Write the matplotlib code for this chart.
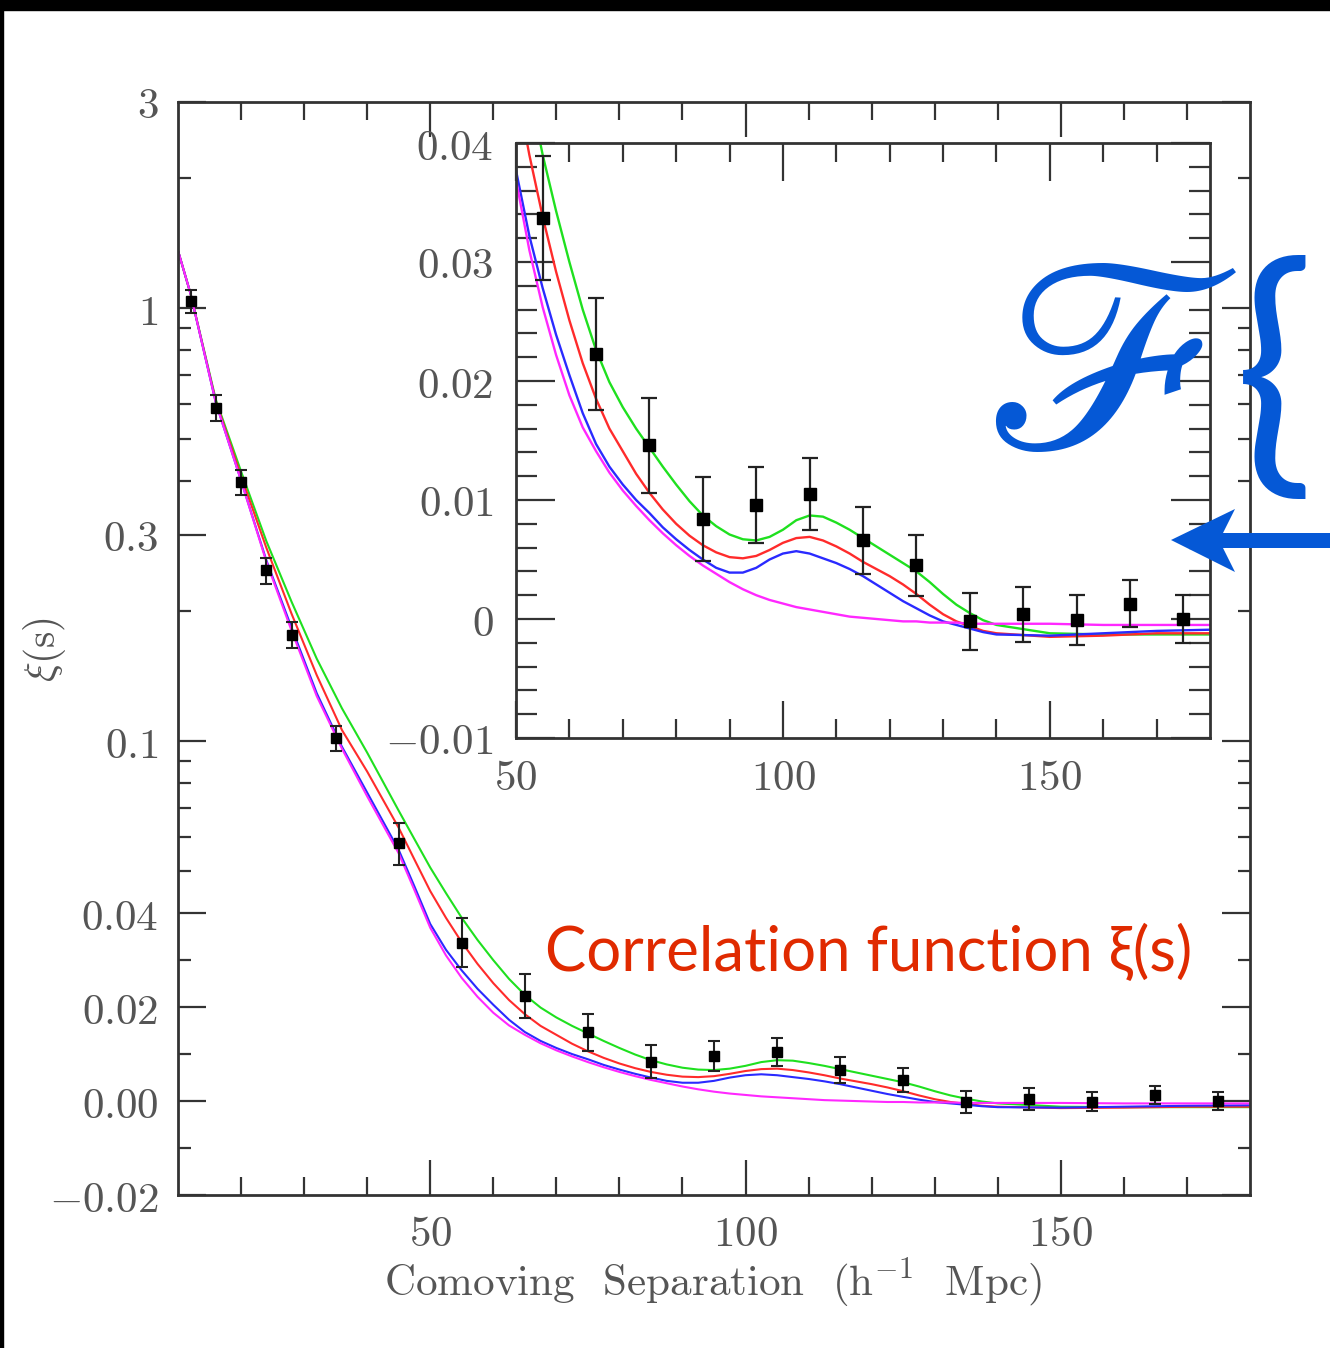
import numpy as np
import matplotlib
matplotlib.use('Agg')
import matplotlib.pyplot as plt
from matplotlib.patches import Rectangle, Polygon
from matplotlib.ticker import FixedLocator, FixedFormatter

plt.rcParams['mathtext.fontset'] = 'cm'

# data points (SDSS LRG correlation function)
pt_s = [12, 16, 20, 24, 28, 35, 45, 55, 65, 75, 85, 95, 105, 115, 125,
        135, 145, 155, 165, 175]
pt_xi = [1.04, 0.59, 0.397, 0.248, 0.176, 0.1015, 0.0581, 0.0337, 0.0223,
         0.0146, 0.0084, 0.0096, 0.0105, 0.0066, 0.0045, -0.0002, 0.0004,
         -0.0001, 0.0013, 0.0000]
pt_err = [0.065, 0.04, 0.027, 0.017, 0.012, 0.0068, 0.0064, 0.0052, 0.0047,
          0.0040, 0.0035, 0.0032, 0.0030, 0.0028, 0.0026, 0.0024, 0.0023,
          0.0021, 0.0020, 0.0020]

# model curves
model_s = [10, 12, 16, 20, 24, 28, 32, 36, 40, 45, 47.5,
           50, 52.5, 55, 57.5, 60, 62.5, 65, 67.5, 70, 72.5, 75, 77.5, 80,
           82.5, 85, 87.5, 90, 92.5, 95, 97.5, 100, 102.5, 105, 107.5, 110,
           112.5, 115, 117.5, 120, 122.5, 125, 127.5, 130, 132.5, 135, 137.5,
           140, 150, 160, 170, 180]
xi_green = [1.36, 1.08, 0.615, 0.42, 0.29, 0.21, 0.155, 0.119, 0.094, 0.069,
            0.0593,
            0.051, 0.0445, 0.0390, 0.0343, 0.0300, 0.0260, 0.0226, 0.0199,
            0.0178, 0.0160, 0.0144, 0.0128, 0.0113, 0.0099, 0.0087, 0.0078,
            0.0071, 0.0067, 0.0066, 0.0069, 0.0075, 0.0083, 0.0087, 0.0086,
            0.0081, 0.0075, 0.0068, 0.0061, 0.0054, 0.0047, 0.0040, 0.0031,
            0.0021, 0.0012, 0.0005, -0.0001, -0.0005, -0.0012, -0.0013,
            -0.0013, -0.0013]
xi_red = [1.36, 1.08, 0.61, 0.41, 0.28, 0.197, 0.142, 0.106, 0.085, 0.063,
          0.0532,
          0.045, 0.0390, 0.0338, 0.0292, 0.0251, 0.0215, 0.0185, 0.0160,
          0.0141, 0.0122, 0.0106, 0.0092, 0.0080, 0.0070, 0.0062, 0.0056,
          0.0052, 0.0051, 0.0053, 0.0058, 0.0064, 0.0068, 0.0069, 0.0066,
          0.0061, 0.0055, 0.0048, 0.0042, 0.0036, 0.0029, 0.0021, 0.0012,
          0.0004, -0.0002, -0.0006, -0.0010, -0.0012, -0.0015, -0.0014,
          -0.0012, -0.0012]
xi_blue = [1.36, 1.08, 0.605, 0.40, 0.262, 0.183, 0.129, 0.097, 0.076, 0.056,
           0.0461,
           0.0377, 0.0322, 0.0278, 0.0239, 0.0205, 0.0173, 0.0147, 0.0128,
           0.0113, 0.0100, 0.0089, 0.0077, 0.0067, 0.0058, 0.0050, 0.0043,
           0.0039, 0.0039, 0.0043, 0.0050, 0.0055, 0.0057, 0.0055, 0.0051,
           0.0047, 0.0042, 0.0036, 0.0029, 0.0022, 0.0015, 0.0009, 0.0003,
           -0.0002, -0.0005, -0.0008, -0.0011, -0.0013, -0.0014, -0.0012,
           -0.0010, -0.0009]
xi_magenta = [1.36, 1.08, 0.605, 0.40, 0.26, 0.18, 0.127, 0.096, 0.0745,
              0.055, 0.0452,
              0.0369, 0.0310, 0.0262, 0.0222, 0.0188, 0.0161, 0.0141, 0.0123,
              0.0108, 0.0095, 0.0083, 0.0072, 0.0062, 0.0053, 0.0045, 0.0038,
              0.0031, 0.0025, 0.0020, 0.0016, 0.0013, 0.0010, 0.0008, 0.0006,
              0.0004, 0.0002, 0.0001, 0.0000, -0.0001, -0.0002, -0.0002,
              -0.0003, -0.0003, -0.0003, -0.0004, -0.0004, -0.0004, -0.0004,
              -0.0005, -0.0005, -0.0005]

curves = [(xi_green, '#1fe01f'), (xi_red, '#ff2b2b'),
          (xi_blue, '#2a2aff'), (xi_magenta, '#ff28ff')]

main_yticks = [-0.02, 0.0, 0.02, 0.04, 0.1, 0.3, 1, 3]
main_ylabels = ['$-0.02$', '$0.00$', '$0.02$', '$0.04$', '$0.1$', '$0.3$',
                '$1$', '$3$']
main_yminor = [-0.01, 0.01, 0.03, 0.05, 0.06, 0.07, 0.08, 0.09, 0.2, 0.4,
               0.5, 0.6, 0.7, 0.8, 0.9, 2]
inset_yticks = [-0.01, 0.0, 0.01, 0.02, 0.03, 0.04]
inset_ylabels = ['$-0.01$', '$0$', '$0.01$', '$0.02$', '$0.03$', '$0.04$']

W, H = 1330, 1348
GRAY = '#555555'
AX = '#333333'
BLUE = '#0558d6'


# linear below 0.04, log above (continuous slope)
def fwd(y):
    y = np.asarray(y, dtype=float)
    return np.where(y <= 0.04, y / 0.04,
                    1 + np.log(np.maximum(y, 0.04) / 0.04))


def inv(f):
    f = np.asarray(f, dtype=float)
    return np.where(f <= 1, 0.04 * f,
                    0.04 * np.exp(np.clip(f, 1, 20) - 1))


def px_box(l, t, r, b):
    return [l / W, 1 - b / H, (r - l) / W, (b - t) / H]


def style_axes(ax, xmaj_len, xmin_len, ymaj_len, ymin_len, pad_x, pad_y):
    for sp in ax.spines.values():
        sp.set_color(AX)
        sp.set_linewidth(2.0)
    ax.tick_params(which='both', direction='in', top=True, right=True,
                   color=AX, width=1.6, labelcolor=GRAY)
    ax.tick_params(axis='x', which='major', length=xmaj_len, pad=pad_x)
    ax.tick_params(axis='x', which='minor', length=xmin_len)
    ax.tick_params(axis='y', which='major', length=ymaj_len, pad=pad_y)
    ax.tick_params(axis='y', which='minor', length=ymin_len)


fig = plt.figure(figsize=(W / 100, H / 100), dpi=100)
fig.patch.set_facecolor('white')

# ---------------- main panel ----------------
ax = fig.add_axes(px_box(178, 102, 1250, 1195))
ax.set_yscale('function', functions=(fwd, inv))
for vals, c in curves:
    ax.plot(model_s, vals, color=c, lw=1.5, zorder=2)
ax.errorbar(pt_s, pt_xi, yerr=pt_err, fmt='s', color='black', ms=7,
            ecolor='#222222', elinewidth=1.5, capsize=4.5, capthick=1.5,
            zorder=3)
ax.set_xlim(10, 180)
ax.set_ylim(-0.02, 3)
ax.xaxis.set_major_locator(FixedLocator([50, 100, 150]))
ax.xaxis.set_minor_locator(FixedLocator(np.arange(20, 180, 10)))
ax.xaxis.set_major_formatter(FixedFormatter(['$50$', '$100$', '$150$']))
ax.yaxis.set_major_locator(FixedLocator(main_yticks))
ax.yaxis.set_major_formatter(FixedFormatter(main_ylabels))
ax.yaxis.set_minor_locator(FixedLocator(main_yminor))
ax.yaxis.set_minor_formatter(FixedFormatter([''] * len(main_yminor)))
style_axes(ax, 25, 13, 20, 9, 13, 14)
for lab in ax.get_xticklabels() + ax.get_yticklabels():
    lab.set_fontsize(31)

fig.text(713 / W, 1 - 1283 / H, r'Comoving  Separation  (h$^{-1}$  Mpc)',
         family='cmr10', fontsize=31, color=GRAY, ha='center', va='center')
fig.text(45 / W, 1 - 650 / H, r'$\xi$(s)', family='cmr10', fontsize=30,
         color=GRAY, rotation=90, ha='center', va='center')

# ---------------- inset ----------------
ins = fig.add_axes(px_box(516, 143, 1210, 738), zorder=5)
ins.set_facecolor('white')
for vals, c in curves:
    ins.plot(model_s, vals, color=c, lw=1.7, zorder=2)
ins.errorbar(pt_s, pt_xi, yerr=pt_err, fmt='s', color='black', ms=8.5,
             ecolor='#222222', elinewidth=1.6, capsize=5.5, capthick=1.6,
             zorder=3)
ins.set_xlim(50, 180)
ins.set_ylim(-0.01, 0.04)
ins.xaxis.set_major_locator(FixedLocator([50, 100, 150]))
ins.xaxis.set_minor_locator(FixedLocator(np.arange(60, 180, 10)))
ins.xaxis.set_major_formatter(FixedFormatter(['$50$', '$100$', '$150$']))
ins.yaxis.set_major_locator(FixedLocator(inset_yticks))
ins.yaxis.set_major_formatter(FixedFormatter(inset_ylabels))
ins.yaxis.set_minor_locator(FixedLocator(np.arange(-0.008, 0.04, 0.002)))
style_axes(ins, 27, 14, 28, 15, 14, 16)
for lab in ins.get_xticklabels() + ins.get_yticklabels():
    lab.set_fontsize(31)

# ---------------- overlay annotations ----------------
fig.text(545 / W, 1 - 953 / H, 'Correlation function ξ(s)',
         family=['Lato', 'DejaVu Sans'], fontsize=44.5, color='#e02a00',
         ha='left', va='center', zorder=10)

fig.text(983 / W, 1 - 375 / H, r'$\mathscr{F}$', math_fontfamily='stix',
         fontsize=200, color=BLUE, ha='left', va='center', zorder=10)
fig.text(1234 / W, 1 - 384 / H, '{', family=['Lato', 'DejaVu Sans'],
         fontsize=192, color=BLUE, ha='left', va='center', zorder=10)

arrow_px = [(1171, 540), (1235, 509), (1223, 533), (1330, 533), (1330, 548),
            (1223, 548), (1235, 572)]
fig.patches.append(Polygon([(x / W, 1 - y / H) for x, y in arrow_px],
                           closed=True, transform=fig.transFigure,
                           facecolor=BLUE, edgecolor='none', zorder=10))

# black frame edges of the slide
fig.patches.append(Rectangle((0, 1 - 10 / H), 1, 10 / H,
                             transform=fig.transFigure, color='black',
                             zorder=20))
fig.patches.append(Rectangle((0, 0), 2.5 / W, 1, transform=fig.transFigure,
                             color='black', zorder=20))

fig.savefig('out.png', dpi=100)
